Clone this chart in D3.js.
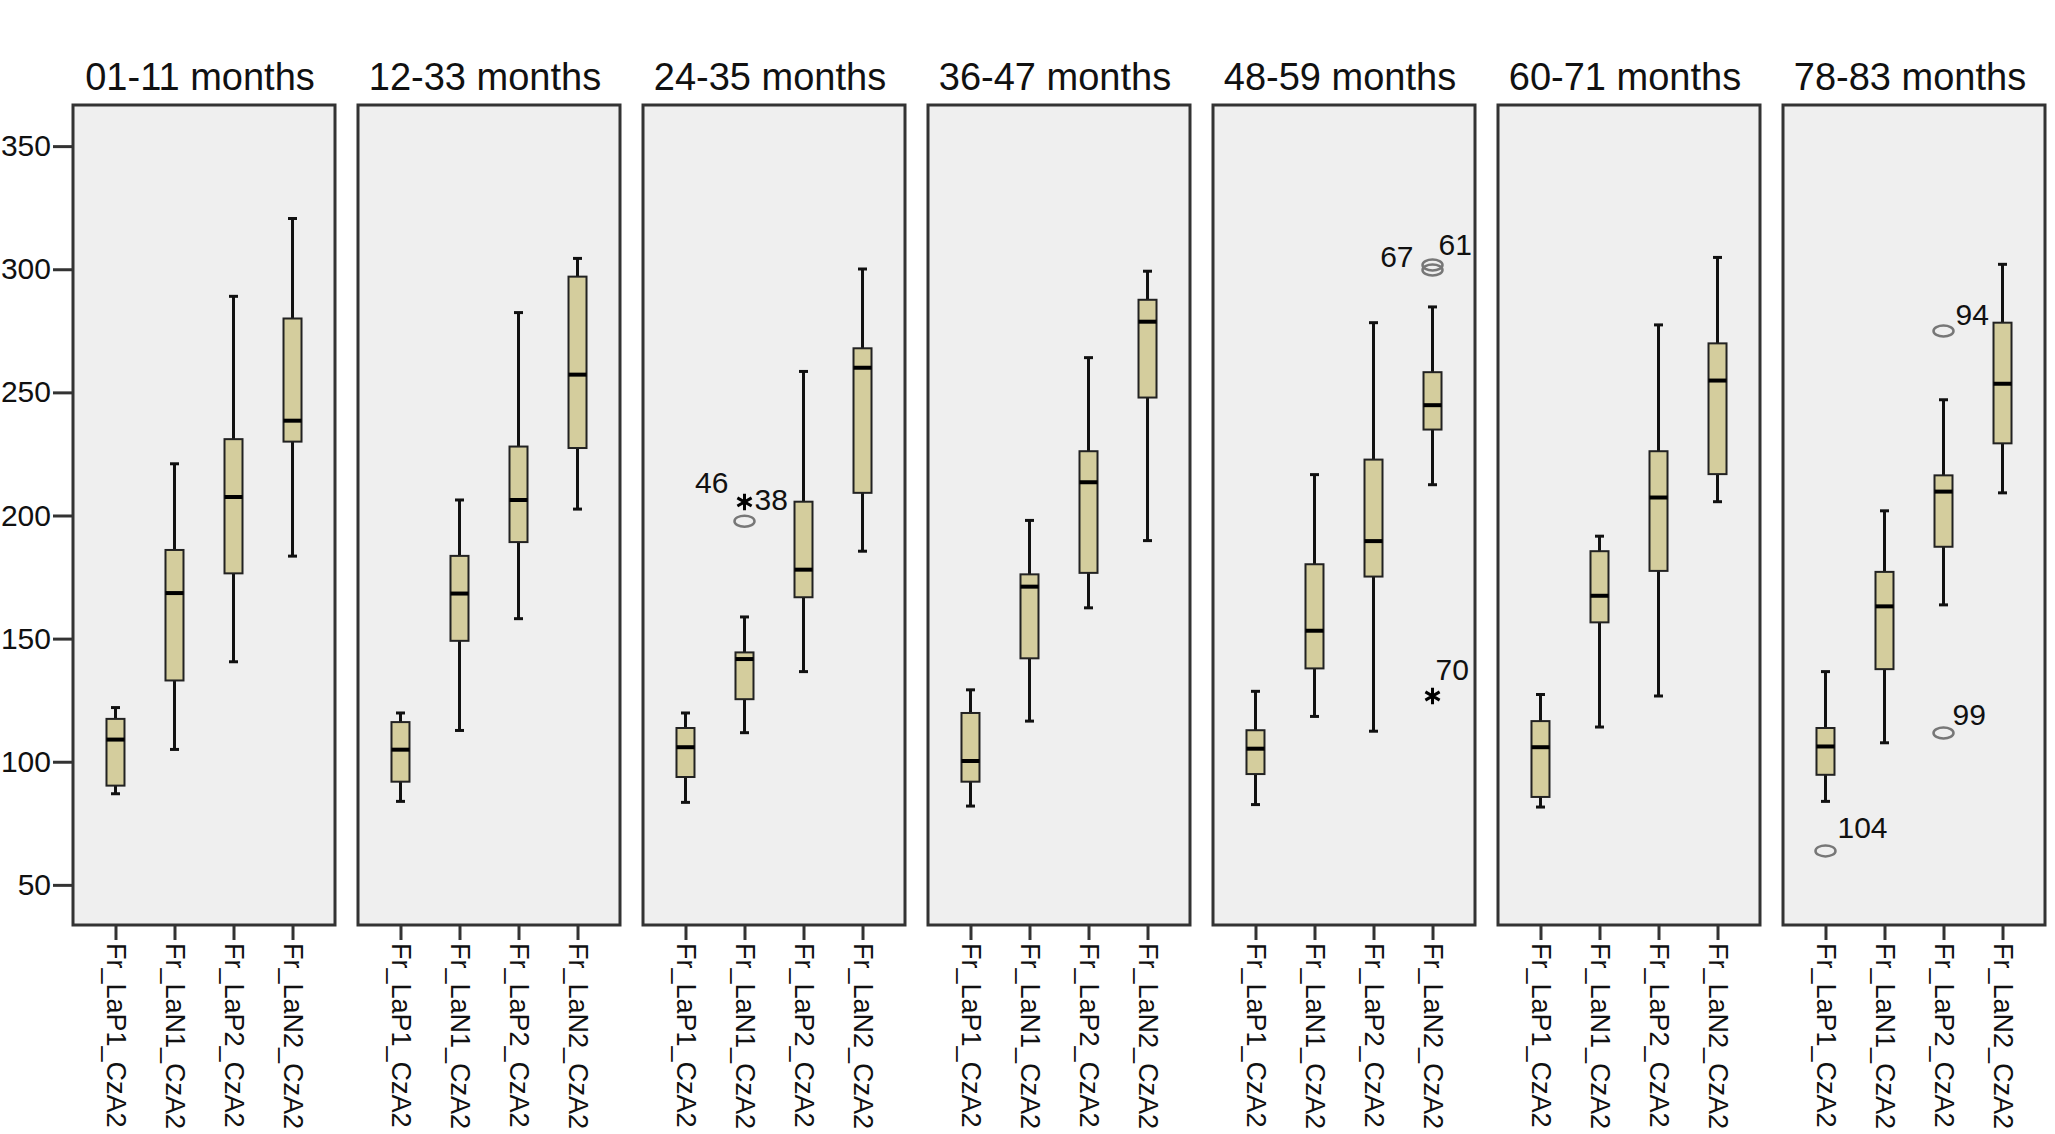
<!DOCTYPE html>
<html>
<head>
<meta charset="utf-8">
<script src="https://d3js.org/d3.v7.min.js"></script>
<style>
  body { margin: 0; background: #fff; }
  text { font-family: "Liberation Sans", Arial, sans-serif; }
</style>
</head>
<body>
<div class="canvas"></div>
<script>
// panel titles, categories and y ticks
const panels = ['01-11 months', '12-33 months', '24-35 months', '36-47 months', '48-59 months', '60-71 months', '78-83 months'];
const categories = ['Fr_LaP1_CzA2', 'Fr_LaN1_CzA2', 'Fr_LaP2_CzA2', 'Fr_LaN2_CzA2'];
const yTicks = [50, 100, 150, 200, 250, 300, 350];

// box stats per panel: [low whisker, Q1, median, Q3, high whisker] for each category
const m01_11 = [[87, 90.3, 109, 117.4, 122], [105, 133, 168.5, 186, 221], [140.6, 176.5, 207.5, 231, 289], [183.5, 230, 238.5, 280, 320.6]];
const m12_33 = [[83.9, 91.9, 104.9, 116.1, 119.8], [112.7, 149.1, 168.3, 183.6, 206.3], [158.1, 189.2, 206.3, 228, 282.4], [202.6, 227.4, 257.2, 297, 304.4]];
const m24_35 = [[83.5, 93.8, 105.9, 113.7, 119.8], [111.8, 125.4, 141.7, 144.4, 158.8], [136.6, 166.8, 178, 205.6, 258.5], [185.5, 209.2, 260, 267.9, 300.1]];
const m36_47 = [[82, 91.9, 100.3, 119.8, 129.2], [116.5, 142, 171.1, 176.1, 198], [162.5, 176.7, 213.5, 226.1, 264.1], [189.8, 247.9, 278.7, 287.6, 299.2]];
const m48_59 = [[82.6, 95, 105.3, 112.8, 128.6], [118.4, 137.9, 153.2, 180.2, 216.6], [112.4, 175.2, 189.6, 222.7, 278.3], [212.5, 234.9, 244.8, 258.2, 284.7]];
const m60_71 = [[81.6, 85.7, 105.9, 116.5, 127.3], [114.1, 156.6, 167.4, 185.5, 191.6], [126.7, 177.5, 207.3, 226.1, 277.4], [205.6, 216.8, 254.8, 269.9, 304.8]];
const m78_83 = [[83.9, 94.7, 106.2, 113.7, 136.6], [107.7, 137.6, 163.1, 177.1, 201.9], [163.7, 187.3, 209.7, 216.3, 247], [209.2, 229.3, 253.5, 278.3, 302]];
const stats = [m01_11, m12_33, m24_35, m36_47, m48_59, m60_71, m78_83];

// outliers: panel index, category index, value, kind, case label
const outPanel = [2, 2, 4, 4, 4, 6, 6, 6];
const outCat   = [1, 1, 3, 3, 3, 0, 2, 2];
const outValue = [197.7, 205.5, 301.7, 299.7, 126.7, 63.8, 274.9, 111.7];
const outKind  = ['o', '*', 'o', 'o', '*', 'o', 'o', 'o'];
const outLabel = ['46', '38', '67', '61', '70', '104', '94', '99'];

// label placement next to each outlier mark
const labelPos = {
  '46': [-16, -28, 'end'], '38': [10, 8, 'start'], '67': [-19, 2, 'end'], '61': [6, -15, 'start'],
  '70': [3, -16, 'start'], '104': [12, -13, 'start'], '94': [12, -6, 'start'], '99': [9, -8, 'start']
};

const width = 2055, height = 1134;
const svg = d3.select('.canvas')
  .append('svg')
  .attr('width', width)
  .attr('height', height);

// layout
const left0 = 73, step = 285, panelW = 262;
const panelTop = 105, panelBottom = 925;

const y = d3.scaleLinear()
  .domain([33.7, 366.7])
  .range([panelBottom, panelTop]);

const x = d3.scalePoint()
  .domain(categories)
  .range([0, panelW])
  .padding(0.72);

// y axis (only on the left)
const yAxisGroup = svg.append('g')
  .attr('transform', `translate(${left0 - 1}, 0)`)
  .call(d3.axisLeft(y).tickValues(yTicks).tickSize(19).tickPadding(2));
yAxisGroup.select('.domain').remove();
yAxisGroup.selectAll('line').attr('stroke', '#333').attr('stroke-width', 3);
yAxisGroup.selectAll('text').attr('font-size', 30).attr('fill', '#111')
  .style('font-family', '"Liberation Sans", Arial, sans-serif');

panels.forEach((title, i) => {
  const left = left0 + i * step;
  const g = svg.append('g').attr('transform', `translate(${left}, 0)`);

  // title
  g.append('text')
    .attr('x', panelW / 2 - 4)
    .attr('y', 90)
    .attr('text-anchor', 'middle')
    .attr('font-size', 38)
    .attr('fill', '#111')
    .text(title);

  // panel frame
  g.append('rect')
    .attr('x', 0).attr('y', panelTop)
    .attr('width', panelW).attr('height', panelBottom - panelTop)
    .attr('fill', '#efefef')
    .attr('stroke', '#333')
    .attr('stroke-width', 3);

  // x axis
  const xAxisGroup = g.append('g')
    .attr('transform', `translate(0, ${panelBottom})`)
    .call(d3.axisBottom(x).tickSize(15).tickPadding(0));
  xAxisGroup.select('.domain').remove();
  xAxisGroup.selectAll('line').attr('stroke', '#333').attr('stroke-width', 3);
  xAxisGroup.selectAll('text')
    .attr('transform', 'rotate(90)')
    .attr('text-anchor', 'start')
    .attr('x', 18)
    .attr('y', 0)
    .attr('dy', '0.35em')
    .attr('font-size', 27)
    .attr('fill', '#111')
    .style('font-family', '"Liberation Sans", Arial, sans-serif');

  // boxes
  const boxW = 18, capW = 9;
  const boxes = g.selectAll('g.box')
    .data(stats[i].map((s, j) => ({ cat: categories[j], s })))
    .enter()
    .append('g')
    .attr('class', 'box')
    .attr('transform', d => `translate(${x(d.cat)}, 0)`);

  boxes.append('line')
    .attr('x1', 0).attr('x2', 0)
    .attr('y1', d => y(d.s[0])).attr('y2', d => y(d.s[4]))
    .attr('stroke', '#111').attr('stroke-width', 3);

  [0, 4].forEach(k => {
    boxes.append('line')
      .attr('x1', -capW / 2).attr('x2', capW / 2)
      .attr('y1', d => y(d.s[k])).attr('y2', d => y(d.s[k]))
      .attr('stroke', '#111').attr('stroke-width', 3);
  });

  boxes.append('rect')
    .attr('x', -boxW / 2)
    .attr('y', d => y(d.s[3]))
    .attr('width', boxW)
    .attr('height', d => y(d.s[1]) - y(d.s[3]))
    .attr('fill', '#d4cd9d')
    .attr('stroke', '#222')
    .attr('stroke-width', 2);

  boxes.append('line')
    .attr('x1', -boxW / 2).attr('x2', boxW / 2)
    .attr('y1', d => y(d.s[2])).attr('y2', d => y(d.s[2]))
    .attr('stroke', '#000').attr('stroke-width', 4);
});

// outliers and extremes
outValue.forEach((v, k) => {
  const cx = left0 + outPanel[k] * step + x(categories[outCat[k]]);
  const cy = y(v);
  if (outKind[k] === 'o') {
    svg.append('ellipse')
      .attr('cx', cx).attr('cy', cy)
      .attr('rx', 10).attr('ry', 5.5)
      .attr('fill', 'none')
      .attr('stroke', '#777')
      .attr('stroke-width', 2.5);
  } else {
    svg.append('path')
      .attr('d', d3.symbol(d3.symbolAsterisk, 190)())
      .attr('transform', `translate(${cx}, ${cy})`)
      .attr('fill', 'none')
      .attr('stroke', '#000')
      .attr('stroke-width', 3);
  }
  const p = labelPos[outLabel[k]];
  svg.append('text')
    .attr('x', cx + p[0])
    .attr('y', cy + p[1])
    .attr('text-anchor', p[2])
    .attr('font-size', 30)
    .attr('fill', '#111')
    .text(outLabel[k]);
});
</script>
</body>
</html>
